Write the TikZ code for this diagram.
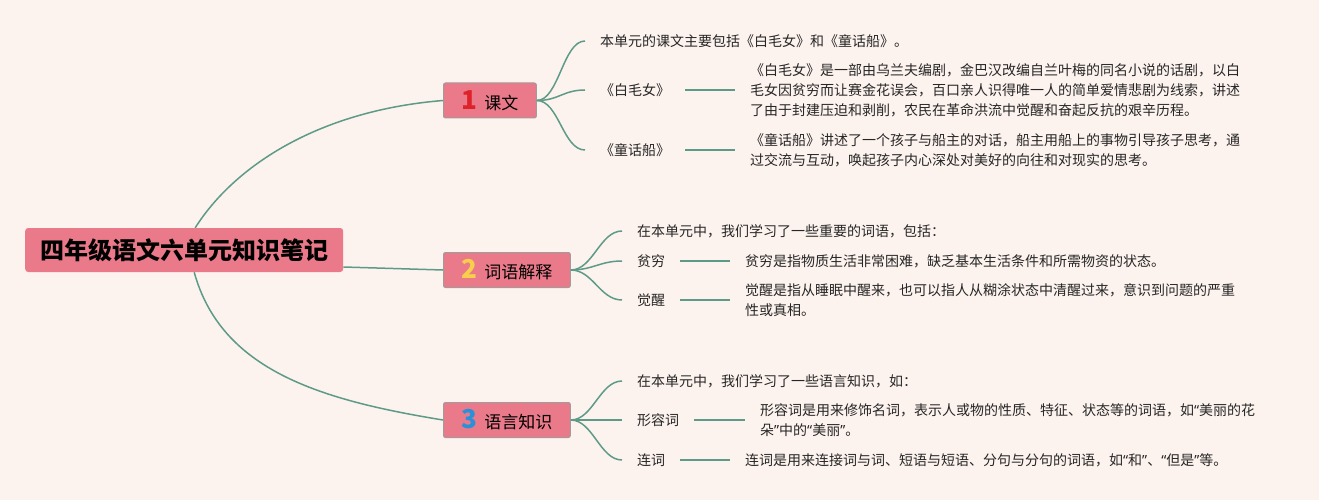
\documentclass[tikz,border=0pt]{standalone}
\usepackage{fontspec}
\setmainfont{Noto Sans CJK SC}
\newfontfamily\mmlatin{Noto Sans}
\usepackage{xcolor}
\usepackage{tikz}
\definecolor{mmbg}{HTML}{FDF3EE}
\definecolor{mmpink}{HTML}{EA7A8A}
\definecolor{mmrim}{HTML}{A39A9A}
\definecolor{mmgreen}{HTML}{5E9A88}
\definecolor{mmred}{HTML}{DE2229}
\definecolor{mmyellow}{HTML}{F7CF4B}
\definecolor{mmblue}{HTML}{2A90D8}
\newcommand{\mmdigit}[2]{\textcolor{#1}{\fontsize{26pt}{26pt}\selectfont\bfseries #2}\hspace{7pt}}
\newcommand{\mmlq}{{\mmlatin “}}
\newcommand{\mmrq}{{\mmlatin ”}}
\tikzset{
mmroot/.style={rectangle,rounded corners=3pt,fill=mmpink,anchor=west,inner xsep=15pt,minimum height=44pt,font=\fontsize{24pt}{24pt}\selectfont\bfseries},
mmtopic/.style={rectangle,rounded corners=2pt,draw=mmrim,line width=1pt,fill=mmpink,anchor=west,inner xsep=18pt,inner ysep=0pt,minimum height=35pt,font=\fontsize{17pt}{17pt}\selectfont},
mmleaf/.style={anchor=west,inner xsep=15pt,inner ysep=2pt,text=black!85,font=\fontsize{14pt}{20pt}\selectfont},
mmnote/.style={mmleaf,align=left},
mmcurve/.style={draw=mmgreen,line width=1.5pt},
mmline/.style={mmcurve}
}
\begin{document}
\begin{tikzpicture}[
x=1pt,
y=-1pt
]
\fill[mmbg] (0,0) rectangle (1319,500);
\node[mmroot] (root) at (25,250) {四年级语文六单元知识笔记};
\node[mmtopic] (k1) at (443,100.5) {\mmdigit{mmred}{1}课文};
\node[mmtopic] (k2) at (443,270) {\mmdigit{mmyellow}{2}词语解释};
\node[mmtopic] (k3) at (443,420) {\mmdigit{mmblue}{3}语言知识};
% 课文
\node[mmleaf] (k1a) at (585,41) {本单元的课文主要包括《白毛女》和《童话船》。};
\node[mmleaf] (k1b) at (585,90) {《白毛女》};
\node[mmleaf] (k1c) at (585,150) {《童话船》};
\node[mmnote] (k1bn) at (735,90) {《白毛女》是一部由乌兰夫编剧，金巴汉改编自兰叶梅的同名小说的话剧，以白\\毛女因贫穷而让赛金花误会，百口亲人识得唯一人的简单爱情悲剧为线索，讲述\\了由于封建压迫和剥削，农民在革命洪流中觉醒和奋起反抗的艰辛历程。};
\node[mmnote] (k1cn) at (735,150) {《童话船》讲述了一个孩子与船主的对话，船主用船上的事物引导孩子思考，通\\过交流与互动，唤起孩子内心深处对美好的向往和对现实的思考。};
% 词语解释
\node[mmleaf] (k2a) at (622,231) {在本单元中，我们学习了一些重要的词语，包括：};
\node[mmleaf] (k2b) at (622,261) {贫穷};
\node[mmleaf] (k2c) at (622,300) {觉醒};
\node[mmnote] (k2bn) at (730,261) {贫穷是指物质生活非常困难，缺乏基本生活条件和所需物资的状态。};
\node[mmnote] (k2cn) at (730,300) {觉醒是指从睡眠中醒来，也可以指人从糊涂状态中清醒过来，意识到问题的严重\\性或真相。};
% 语言知识
\node[mmleaf] (k3a) at (622,381) {在本单元中，我们学习了一些语言知识，如：};
\node[mmleaf] (k3b) at (622,420) {形容词};
\node[mmleaf] (k3c) at (622,460) {连词};
\node[mmnote] (k3bn) at (745,420) {形容词是用来修饰名词，表示人或物的性质、特征、状态等的词语，如\mmlq 美丽的花\\朵\mmrq 中的\mmlq 美丽\mmrq 。};
\node[mmnote] (k3cn) at (730,460) {连词是用来连接词与词、短语与短语、分句与分句的词语，如\mmlq 和\mmrq 、\mmlq 但是\mmrq 等。};
\draw[mmcurve] ([xshift=11pt]root.north) .. controls +(40,-63) and +(-123,10) .. (k1.west);
\draw[mmcurve] ([yshift=-17pt]root.east) -- (k2.west);
\draw[mmcurve] ([xshift=10pt]root.south) .. controls +(27,98) and +(-123,-20) .. (k3.west);
\draw[mmcurve] (k1.east) .. controls +(22,0) and +(-22,0) .. (k1a.west);
\draw[mmcurve] (k1.east) .. controls +(22,0) and +(-22,0) .. (k1b.west);
\draw[mmcurve] (k1.east) .. controls +(22,0) and +(-22,0) .. (k1c.west);
\draw[mmcurve] (k2.east) .. controls +(22,0) and +(-22,0) .. (k2a.west);
\draw[mmcurve] (k2.east) .. controls +(22,0) and +(-22,0) .. (k2b.west);
\draw[mmcurve] (k2.east) .. controls +(22,0) and +(-22,0) .. (k2c.west);
\draw[mmcurve] (k3.east) .. controls +(22,0) and +(-22,0) .. (k3a.west);
\draw[mmcurve] (k3.east) .. controls +(22,0) and +(-22,0) .. (k3b.west);
\draw[mmcurve] (k3.east) .. controls +(22,0) and +(-22,0) .. (k3c.west);
\draw[mmline] (k1b.east)--(k1bn.west);
\draw[mmline] (k1c.east)--(k1cn.west);
\draw[mmline] (k2b.east)--(k2bn.west);
\draw[mmline] (k2c.east)--(k2cn.west);
\draw[mmline] (k3b.east)--(k3bn.west);
\draw[mmline] (k3c.east)--(k3cn.west);
\end{tikzpicture}
\end{document}
